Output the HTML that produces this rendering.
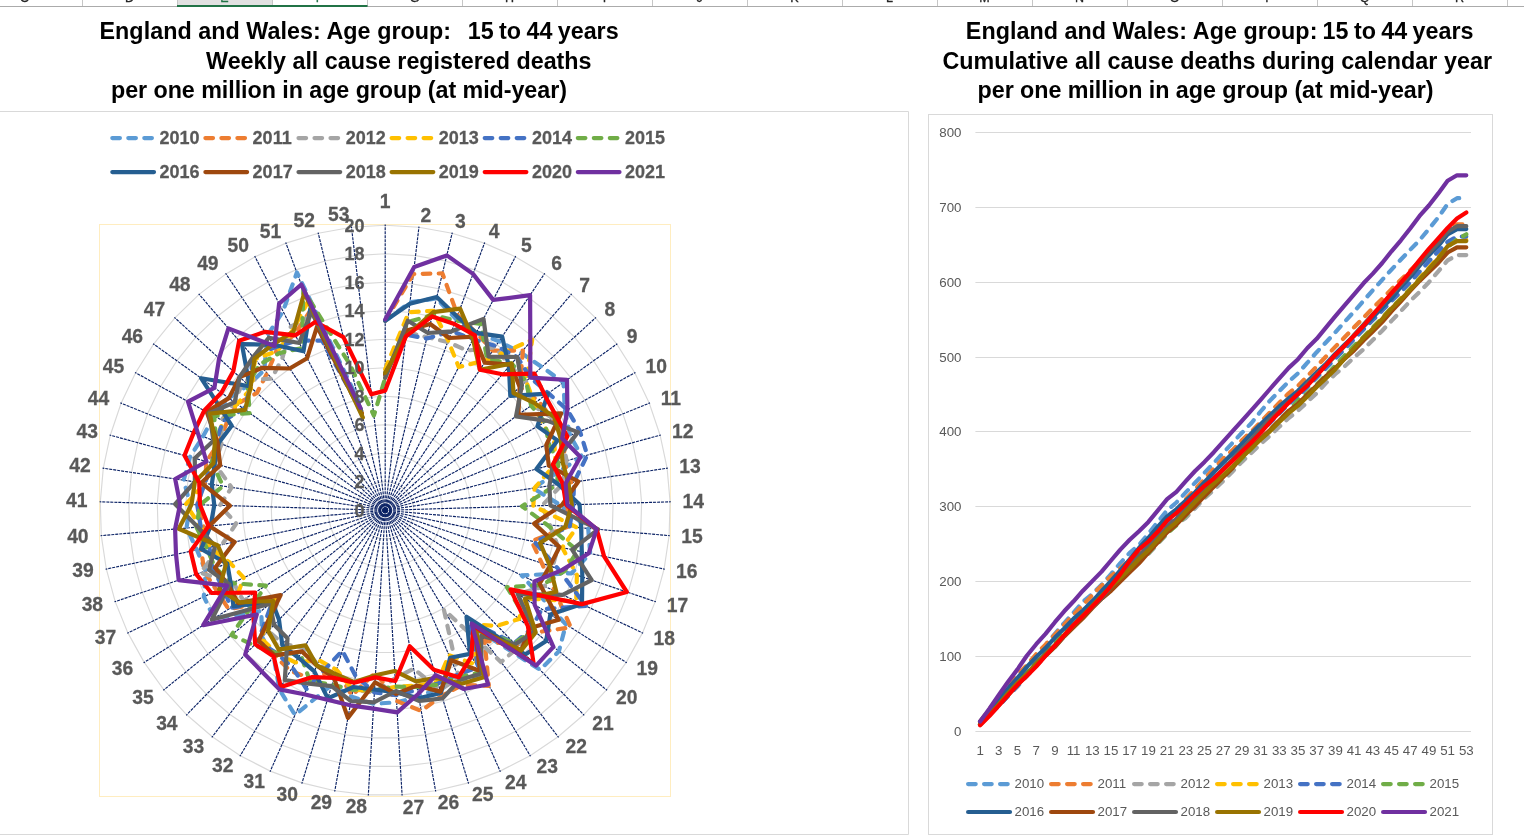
<!DOCTYPE html>
<html lang="en"><head><meta charset="utf-8"><title>England and Wales: Age group 15 to 44 years</title>
<style>
html,body{margin:0;padding:0;background:#fff;}
body{width:1524px;height:836px;overflow:hidden;font-family:"Liberation Sans",sans-serif;}
svg{display:block;}
.t{font-family:"Liberation Sans",sans-serif;font-weight:bold;font-size:23.3px;fill:#000;white-space:pre;}
.cl{font-family:"Liberation Sans",sans-serif;font-weight:bold;font-size:18.3px;fill:#595959;stroke:#595959;stroke-width:0.25px;}
.cat{font-size:19.6px;}
.rl{font-family:"Liberation Sans",sans-serif;font-size:13.3px;fill:#595959;}
.hd{font-family:"Liberation Sans",sans-serif;font-size:12.5px;fill:#222;text-anchor:middle;stroke-width:0.3px;stroke:currentColor;}
.s{fill:none;stroke-width:4.2;stroke-linejoin:round;stroke-linecap:round;}
.d{stroke-dasharray:7.6 8.4;}
.sp{stroke:#0B2265;stroke-width:1.15;stroke-dasharray:3 1;fill:none;}
.g{stroke:#D9D9D9;stroke-width:1.15;fill:none;}
</style></head><body>
<svg width="1524" height="836" viewBox="0 0 1524 836">
<rect x="0" y="0" width="1524" height="836" fill="#fff"/>
<g>
<rect x="177.5" y="0" width="95" height="6" fill="#E1E1E1"/>
<text class="hd" x="24.6" y="2" style="fill:#262626;stroke:#262626">C</text>
<text class="hd" x="129.5" y="2" style="fill:#262626;stroke:#262626">D</text>
<text class="hd" x="224.5" y="2" style="fill:#217346;stroke:#217346">E</text>
<text class="hd" x="319.5" y="2" style="fill:#217346;stroke:#217346">F</text>
<text class="hd" x="414.5" y="2" style="fill:#262626;stroke:#262626">G</text>
<text class="hd" x="509.5" y="2" style="fill:#262626;stroke:#262626">H</text>
<text class="hd" x="604.5" y="2" style="fill:#262626;stroke:#262626">I</text>
<text class="hd" x="699.5" y="2" style="fill:#262626;stroke:#262626">J</text>
<text class="hd" x="794.5" y="2" style="fill:#262626;stroke:#262626">K</text>
<text class="hd" x="889.5" y="2" style="fill:#262626;stroke:#262626">L</text>
<text class="hd" x="984.5" y="2" style="fill:#262626;stroke:#262626">M</text>
<text class="hd" x="1079.5" y="2" style="fill:#262626;stroke:#262626">N</text>
<text class="hd" x="1174.5" y="2" style="fill:#262626;stroke:#262626">O</text>
<text class="hd" x="1269.5" y="2" style="fill:#262626;stroke:#262626">P</text>
<text class="hd" x="1364.5" y="2" style="fill:#262626;stroke:#262626">Q</text>
<text class="hd" x="1459.5" y="2" style="fill:#262626;stroke:#262626">R</text>
<line x1="82.5" y1="0" x2="82.5" y2="6" stroke="#C6C6C6" stroke-width="1"/>
<line x1="177.5" y1="0" x2="177.5" y2="6" stroke="#C6C6C6" stroke-width="1"/>
<line x1="272.5" y1="0" x2="272.5" y2="6" stroke="#C6C6C6" stroke-width="1"/>
<line x1="367.5" y1="0" x2="367.5" y2="6" stroke="#C6C6C6" stroke-width="1"/>
<line x1="462.5" y1="0" x2="462.5" y2="6" stroke="#C6C6C6" stroke-width="1"/>
<line x1="557.5" y1="0" x2="557.5" y2="6" stroke="#C6C6C6" stroke-width="1"/>
<line x1="652.5" y1="0" x2="652.5" y2="6" stroke="#C6C6C6" stroke-width="1"/>
<line x1="747.5" y1="0" x2="747.5" y2="6" stroke="#C6C6C6" stroke-width="1"/>
<line x1="842.5" y1="0" x2="842.5" y2="6" stroke="#C6C6C6" stroke-width="1"/>
<line x1="937.5" y1="0" x2="937.5" y2="6" stroke="#C6C6C6" stroke-width="1"/>
<line x1="1032.5" y1="0" x2="1032.5" y2="6" stroke="#C6C6C6" stroke-width="1"/>
<line x1="1127.5" y1="0" x2="1127.5" y2="6" stroke="#C6C6C6" stroke-width="1"/>
<line x1="1222.5" y1="0" x2="1222.5" y2="6" stroke="#C6C6C6" stroke-width="1"/>
<line x1="1317.5" y1="0" x2="1317.5" y2="6" stroke="#C6C6C6" stroke-width="1"/>
<line x1="1412.5" y1="0" x2="1412.5" y2="6" stroke="#C6C6C6" stroke-width="1"/>
<line x1="1507.5" y1="0" x2="1507.5" y2="6" stroke="#C6C6C6" stroke-width="1"/>
<rect x="0" y="6" width="1524" height="1" fill="#ABABAB"/>
<rect x="177" y="5" width="190.5" height="2" fill="#217346"/>
</g>
<text class="t" x="99.5" y="38.9" style="letter-spacing:0.046px">England and Wales: Age group:</text>
<text class="t" x="467.8" y="38.9" style="word-spacing:-1.1px">15 to 44 years</text>
<text class="t" x="206.1" y="69.3">Weekly all cause registered deaths</text>
<text class="t" x="111.0" y="97.7" style="letter-spacing:-0.056px">per one million in age group (at mid-year)</text>
<text class="t" x="965.8" y="38.9" style="letter-spacing:0.046px">England and Wales: Age group:</text>
<text class="t" x="1322.6" y="38.9" style="word-spacing:-1.1px">15 to 44 years</text>
<text class="t" x="942.4" y="69.3" style="letter-spacing:0.04px">Cumulative all cause deaths during calendar year</text>
<text class="t" x="977.6" y="97.7" style="letter-spacing:-0.056px">per one million in age group (at mid-year)</text>
<path d="M0 111.5H908.5V834.5H0" fill="none" stroke="#D9D9D9" stroke-width="1"/>
<rect x="928.5" y="114.5" width="564" height="720" fill="none" stroke="#D9D9D9" stroke-width="1"/>
<line class="s d" x1="112.3" y1="138.1" x2="152.2" y2="138.1" stroke="#5B9BD5"/>
<text class="cl" transform="translate(159.5 144.4) scale(0.985 1)" text-anchor="start">2010</text>
<line class="s d" x1="205.4" y1="138.1" x2="245.3" y2="138.1" stroke="#ED7D31"/>
<text class="cl" transform="translate(252.6 144.4) scale(0.985 1)" text-anchor="start">2011</text>
<line class="s d" x1="298.5" y1="138.1" x2="338.4" y2="138.1" stroke="#A5A5A5"/>
<text class="cl" transform="translate(345.7 144.4) scale(0.985 1)" text-anchor="start">2012</text>
<line class="s d" x1="391.6" y1="138.1" x2="431.5" y2="138.1" stroke="#FFC000"/>
<text class="cl" transform="translate(438.8 144.4) scale(0.985 1)" text-anchor="start">2013</text>
<line class="s d" x1="484.7" y1="138.1" x2="524.6" y2="138.1" stroke="#4472C4"/>
<text class="cl" transform="translate(531.9 144.4) scale(0.985 1)" text-anchor="start">2014</text>
<line class="s d" x1="577.8" y1="138.1" x2="617.7" y2="138.1" stroke="#70AD47"/>
<text class="cl" transform="translate(625 144.4) scale(0.985 1)" text-anchor="start">2015</text>
<line class="s" x1="112.3" y1="172.1" x2="154" y2="172.1" stroke="#255E91"/>
<text class="cl" transform="translate(159.5 177.9) scale(0.985 1)" text-anchor="start">2016</text>
<line class="s" x1="205.4" y1="172.1" x2="247.1" y2="172.1" stroke="#9E480E"/>
<text class="cl" transform="translate(252.6 177.9) scale(0.985 1)" text-anchor="start">2017</text>
<line class="s" x1="298.5" y1="172.1" x2="340.2" y2="172.1" stroke="#636363"/>
<text class="cl" transform="translate(345.7 177.9) scale(0.985 1)" text-anchor="start">2018</text>
<line class="s" x1="391.6" y1="172.1" x2="433.3" y2="172.1" stroke="#997300"/>
<text class="cl" transform="translate(438.8 177.9) scale(0.985 1)" text-anchor="start">2019</text>
<line class="s" x1="484.7" y1="172.1" x2="526.4" y2="172.1" stroke="#FF0000"/>
<text class="cl" transform="translate(531.9 177.9) scale(0.985 1)" text-anchor="start">2020</text>
<line class="s" x1="577.8" y1="172.1" x2="619.5" y2="172.1" stroke="#7030A0"/>
<text class="cl" transform="translate(625 177.9) scale(0.985 1)" text-anchor="start">2021</text>
<rect x="99.5" y="224.5" width="571" height="572" fill="none" stroke="#FFEDC0" stroke-width="1"/>
<polygon class="g" points="385.2,481.8 388.6,482.0 391.9,482.6 395.1,483.6 398.2,484.9 401.1,486.7 403.8,488.7 406.2,491.1 408.4,493.7 410.2,496.5 411.6,499.6 412.7,502.8 413.4,506.1 413.7,509.5 413.6,512.8 413.1,516.2 412.2,519.4 410.9,522.6 409.3,525.5 407.3,528.3 405.1,530.7 402.5,533.0 399.7,534.8 396.7,536.4 393.5,537.6 390.2,538.4 386.9,538.7 383.5,538.7 380.2,538.4 376.9,537.6 373.7,536.4 370.7,534.8 367.9,533.0 365.3,530.7 363.1,528.3 361.1,525.5 359.5,522.6 358.2,519.4 357.3,516.2 356.8,512.8 356.7,509.5 357.0,506.1 357.7,502.8 358.8,499.6 360.2,496.5 362.0,493.7 364.2,491.1 366.6,488.7 369.3,486.7 372.2,484.9 375.3,483.6 378.5,482.6 381.8,482.0"/>
<polygon class="g" points="385.2,453.3 391.9,453.7 398.6,454.9 405.0,456.9 411.2,459.6 417.0,463.0 422.4,467.1 427.3,471.8 431.5,477.1 435.1,482.8 438.0,488.9 440.2,495.3 441.6,501.9 442.2,508.6 442.0,515.4 441.0,522.0 439.2,528.6 436.7,534.8 433.4,540.7 429.5,546.2 424.9,551.2 419.8,555.6 414.2,559.4 408.2,562.5 401.8,564.8 395.3,566.4 388.6,567.2 381.8,567.2 375.1,566.4 368.6,564.8 362.2,562.5 356.2,559.4 350.6,555.6 345.5,551.2 340.9,546.2 337.0,540.7 333.7,534.8 331.2,528.6 329.4,522.0 328.4,515.4 328.2,508.6 328.8,501.9 330.2,495.3 332.4,488.9 335.3,482.8 338.9,477.1 343.1,471.8 348.0,467.1 353.4,463.0 359.2,459.6 365.4,456.9 371.8,454.9 378.5,453.7"/>
<polygon class="g" points="385.2,424.8 395.3,425.4 405.3,427.2 415.0,430.2 424.2,434.2 433.0,439.4 441.0,445.5 448.3,452.6 454.7,460.5 460.1,469.0 464.4,478.2 467.7,487.8 469.8,497.7 470.7,507.8 470.4,517.9 468.9,527.9 466.2,537.7 462.4,547.1 457.5,555.9 451.6,564.2 444.8,571.6 437.1,578.3 428.7,583.9 419.7,588.5 410.2,592.1 400.3,594.5 390.3,595.6 380.1,595.6 370.1,594.5 360.2,592.1 350.7,588.5 341.7,583.9 333.3,578.3 325.6,571.6 318.8,564.2 312.9,555.9 308.0,547.1 304.2,537.7 301.5,527.9 300.0,517.9 299.7,507.8 300.6,497.7 302.7,487.8 306.0,478.2 310.3,469.0 315.7,460.5 322.1,452.6 329.4,445.5 337.4,439.4 346.2,434.2 355.4,430.2 365.1,427.2 375.1,425.4"/>
<polygon class="g" points="385.2,396.3 398.7,397.1 412.0,399.5 424.9,403.4 437.3,408.9 448.9,415.7 459.6,423.9 469.3,433.4 477.8,443.8 485.0,455.3 490.8,467.5 495.2,480.3 498.0,493.5 499.1,506.9 498.7,520.4 496.8,533.8 493.2,546.8 488.1,559.3 481.6,571.2 473.7,582.1 464.6,592.1 454.4,600.9 443.2,608.5 431.2,614.6 418.5,619.3 405.4,622.5 392.0,624.1 378.4,624.1 365.0,622.5 351.9,619.3 339.2,614.6 327.2,608.5 316.0,600.9 305.8,592.1 296.7,582.1 288.8,571.2 282.3,559.3 277.2,546.8 273.6,533.8 271.7,520.4 271.3,506.9 272.4,493.5 275.2,480.3 279.6,467.5 285.4,455.3 292.6,443.8 301.1,433.4 310.8,423.9 321.5,415.7 333.1,408.9 345.5,403.4 358.4,399.5 371.7,397.1"/>
<polygon class="g" points="385.2,367.8 402.1,368.8 418.7,371.8 434.8,376.7 450.3,383.5 464.8,392.1 478.2,402.4 490.3,414.1 501.0,427.2 510.0,441.5 517.3,456.7 522.7,472.7 526.1,489.3 527.6,506.1 527.1,523.0 524.6,539.7 520.2,555.9 513.8,571.6 505.7,586.4 495.9,600.1 484.5,612.5 471.7,623.6 457.7,633.0 442.6,640.7 426.8,646.6 410.4,650.6 393.6,652.5 376.8,652.5 360.0,650.6 343.6,646.6 327.8,640.7 312.7,633.0 298.7,623.6 285.9,612.5 274.5,600.1 264.7,586.4 256.6,571.6 250.2,555.9 245.8,539.7 243.3,523.0 242.8,506.1 244.3,489.3 247.7,472.7 253.1,456.7 260.4,441.5 269.4,427.2 280.1,414.1 292.2,402.4 305.6,392.1 320.1,383.5 335.6,376.7 351.7,371.8 368.3,368.8"/>
<polygon class="g" points="385.2,339.3 405.4,340.5 425.4,344.1 444.7,350.0 463.3,358.2 480.7,368.5 496.8,380.8 511.4,394.9 524.1,410.6 535.0,427.7 543.7,446.0 550.2,465.2 554.3,485.1 556.1,505.2 555.5,525.5 552.5,545.5 547.2,565.1 539.6,583.8 529.8,601.6 518.0,618.0 504.3,633.0 489.0,646.2 472.2,657.5 454.1,666.8 435.1,673.8 415.4,678.6 395.3,681.0 375.1,681.0 355.0,678.6 335.3,673.8 316.3,666.8 298.2,657.5 281.4,646.2 266.1,633.0 252.4,618.0 240.6,601.6 230.8,583.8 223.2,565.1 217.9,545.5 214.9,525.5 214.3,505.2 216.1,485.1 220.2,465.2 226.7,446.0 235.4,427.7 246.3,410.6 259.0,394.9 273.6,380.8 289.7,368.5 307.1,358.2 325.7,350.0 345.0,344.1 365.0,340.5"/>
<polygon class="g" points="385.2,310.8 408.8,312.2 432.1,316.4 454.7,323.3 476.3,332.8 496.7,344.8 515.4,359.2 532.4,375.6 547.3,394.0 559.9,414.0 570.1,435.3 577.6,457.7 582.5,480.8 584.6,504.4 583.9,528.0 580.4,551.4 574.2,574.2 565.3,596.1 553.9,616.8 540.1,636.0 524.2,653.4 506.3,668.9 486.7,682.1 465.6,692.9 443.5,701.1 420.5,706.7 397.0,709.4 373.4,709.4 349.9,706.7 326.9,701.1 304.8,692.9 283.7,682.1 264.1,668.9 246.2,653.4 230.3,636.0 216.5,616.8 205.1,596.1 196.2,574.2 190.0,551.4 186.5,528.0 185.8,504.4 187.9,480.8 192.8,457.7 200.3,435.3 210.5,414.0 223.1,394.0 238.0,375.6 255.0,359.2 273.7,344.8 294.1,332.8 315.7,323.3 338.3,316.4 361.6,312.2"/>
<polygon class="g" points="385.2,282.3 412.2,283.9 438.8,288.7 464.6,296.6 489.3,307.5 512.6,321.2 534.0,337.6 553.4,356.4 570.4,377.4 584.9,400.2 596.5,424.6 605.1,450.2 610.7,476.6 613.1,503.5 612.3,530.5 608.3,557.3 601.2,583.3 591.0,608.4 578.0,632.0 562.2,654.0 544.0,673.9 523.6,691.5 501.1,706.6 477.1,719.0 451.8,728.4 425.5,734.7 398.7,737.9 371.7,737.9 344.9,734.7 318.6,728.4 293.3,719.0 269.3,706.6 246.8,691.5 226.4,673.9 208.2,654.0 192.4,632.0 179.4,608.4 169.2,583.3 162.1,557.3 158.1,530.5 157.3,503.5 159.7,476.6 165.3,450.2 173.9,424.6 185.5,400.2 200.0,377.4 217.0,356.4 236.4,337.6 257.8,321.2 281.1,307.5 305.8,296.6 331.6,288.7 358.2,283.9"/>
<polygon class="g" points="385.2,253.8 415.5,255.6 445.4,261.0 474.5,269.9 502.3,282.1 528.5,297.6 552.6,316.0 574.5,337.2 593.6,360.8 609.8,386.5 622.9,413.9 632.6,442.7 638.9,472.4 641.6,502.7 640.7,533.1 636.2,563.1 628.2,592.4 616.8,620.6 602.1,647.2 584.4,671.9 563.9,694.3 540.8,714.2 515.6,731.2 488.6,745.0 460.1,755.6 430.6,762.8 400.4,766.3 370.0,766.3 339.8,762.8 310.3,755.6 281.8,745.0 254.8,731.2 229.6,714.2 206.5,694.3 186.0,671.9 168.3,647.2 153.6,620.6 142.2,592.4 134.2,563.1 129.7,533.1 128.8,502.7 131.5,472.4 137.8,442.7 147.5,413.9 160.6,386.5 176.8,360.8 195.9,337.2 217.8,316.0 241.9,297.6 268.1,282.1 295.9,269.9 325.0,261.0 354.9,255.6"/>
<polygon class="g" points="385.2,225.3 418.9,227.3 452.1,233.3 484.4,243.1 515.3,256.7 544.4,273.9 571.3,294.4 595.5,317.9 616.8,344.2 634.8,372.7 649.3,403.2 660.1,435.2 667.1,468.2 670.1,501.9 669.1,535.6 664.1,569.0 655.2,601.6 642.5,632.9 626.2,662.4 606.5,689.9 583.7,714.8 558.1,736.8 530.1,755.7 500.1,771.1 468.4,782.9 435.6,790.8 402.1,794.8 368.3,794.8 334.8,790.8 302.0,782.9 270.3,771.1 240.3,755.7 212.3,736.8 186.7,714.8 163.9,689.9 144.2,662.4 127.9,632.9 115.2,601.6 106.3,569.0 101.3,535.6 100.3,501.9 103.3,468.2 110.3,435.2 121.1,403.2 135.6,372.7 153.6,344.2 174.9,317.9 199.1,294.4 226.0,273.9 255.1,256.7 286.0,243.1 318.3,233.3 351.5,227.3"/>
<line class="sp" x1="385.2" y1="510.3" x2="385.2" y2="224.6"/>
<line class="sp" x1="385.2" y1="510.3" x2="419.0" y2="226.6"/>
<line class="sp" x1="385.2" y1="510.3" x2="452.3" y2="232.6"/>
<line class="sp" x1="385.2" y1="510.3" x2="484.7" y2="242.5"/>
<line class="sp" x1="385.2" y1="510.3" x2="515.7" y2="256.1"/>
<line class="sp" x1="385.2" y1="510.3" x2="544.8" y2="273.3"/>
<line class="sp" x1="385.2" y1="510.3" x2="571.7" y2="293.9"/>
<line class="sp" x1="385.2" y1="510.3" x2="596.0" y2="317.4"/>
<line class="sp" x1="385.2" y1="510.3" x2="617.3" y2="343.7"/>
<line class="sp" x1="385.2" y1="510.3" x2="635.4" y2="372.4"/>
<line class="sp" x1="385.2" y1="510.3" x2="650.0" y2="402.9"/>
<line class="sp" x1="385.2" y1="510.3" x2="660.8" y2="435.0"/>
<line class="sp" x1="385.2" y1="510.3" x2="667.8" y2="468.1"/>
<line class="sp" x1="385.2" y1="510.3" x2="670.8" y2="501.8"/>
<line class="sp" x1="385.2" y1="510.3" x2="669.8" y2="535.7"/>
<line class="sp" x1="385.2" y1="510.3" x2="664.8" y2="569.2"/>
<line class="sp" x1="385.2" y1="510.3" x2="655.9" y2="601.8"/>
<line class="sp" x1="385.2" y1="510.3" x2="643.1" y2="633.2"/>
<line class="sp" x1="385.2" y1="510.3" x2="626.8" y2="662.8"/>
<line class="sp" x1="385.2" y1="510.3" x2="607.1" y2="690.3"/>
<line class="sp" x1="385.2" y1="510.3" x2="584.2" y2="715.3"/>
<line class="sp" x1="385.2" y1="510.3" x2="558.6" y2="737.4"/>
<line class="sp" x1="385.2" y1="510.3" x2="530.5" y2="756.3"/>
<line class="sp" x1="385.2" y1="510.3" x2="500.4" y2="771.8"/>
<line class="sp" x1="385.2" y1="510.3" x2="468.6" y2="783.6"/>
<line class="sp" x1="385.2" y1="510.3" x2="435.7" y2="791.5"/>
<line class="sp" x1="385.2" y1="510.3" x2="402.1" y2="795.5"/>
<line class="sp" x1="385.2" y1="510.3" x2="368.3" y2="795.5"/>
<line class="sp" x1="385.2" y1="510.3" x2="334.7" y2="791.5"/>
<line class="sp" x1="385.2" y1="510.3" x2="301.8" y2="783.6"/>
<line class="sp" x1="385.2" y1="510.3" x2="270.0" y2="771.8"/>
<line class="sp" x1="385.2" y1="510.3" x2="239.9" y2="756.3"/>
<line class="sp" x1="385.2" y1="510.3" x2="211.8" y2="737.4"/>
<line class="sp" x1="385.2" y1="510.3" x2="186.2" y2="715.3"/>
<line class="sp" x1="385.2" y1="510.3" x2="163.3" y2="690.3"/>
<line class="sp" x1="385.2" y1="510.3" x2="143.6" y2="662.8"/>
<line class="sp" x1="385.2" y1="510.3" x2="127.3" y2="633.2"/>
<line class="sp" x1="385.2" y1="510.3" x2="114.5" y2="601.8"/>
<line class="sp" x1="385.2" y1="510.3" x2="105.6" y2="569.2"/>
<line class="sp" x1="385.2" y1="510.3" x2="100.6" y2="535.7"/>
<line class="sp" x1="385.2" y1="510.3" x2="99.6" y2="501.8"/>
<line class="sp" x1="385.2" y1="510.3" x2="102.6" y2="468.1"/>
<line class="sp" x1="385.2" y1="510.3" x2="109.6" y2="435.0"/>
<line class="sp" x1="385.2" y1="510.3" x2="120.4" y2="402.9"/>
<line class="sp" x1="385.2" y1="510.3" x2="135.0" y2="372.4"/>
<line class="sp" x1="385.2" y1="510.3" x2="153.1" y2="343.7"/>
<line class="sp" x1="385.2" y1="510.3" x2="174.4" y2="317.4"/>
<line class="sp" x1="385.2" y1="510.3" x2="198.7" y2="293.9"/>
<line class="sp" x1="385.2" y1="510.3" x2="225.6" y2="273.3"/>
<line class="sp" x1="385.2" y1="510.3" x2="254.7" y2="256.1"/>
<line class="sp" x1="385.2" y1="510.3" x2="285.7" y2="242.5"/>
<line class="sp" x1="385.2" y1="510.3" x2="318.1" y2="232.6"/>
<line class="sp" x1="385.2" y1="510.3" x2="351.4" y2="226.6"/>
<text class="cl cat" transform="translate(385.2 208.2) scale(0.985 1)" text-anchor="middle">1</text>
<text class="cl cat" transform="translate(420.4 221.5) scale(0.985 1)" text-anchor="start">2</text>
<text class="cl cat" transform="translate(455 227.7) scale(0.985 1)" text-anchor="start">3</text>
<text class="cl cat" transform="translate(488.7 238) scale(0.985 1)" text-anchor="start">4</text>
<text class="cl cat" transform="translate(521 252.2) scale(0.985 1)" text-anchor="start">5</text>
<text class="cl cat" transform="translate(551.3 270.1) scale(0.985 1)" text-anchor="start">6</text>
<text class="cl cat" transform="translate(579.3 291.5) scale(0.985 1)" text-anchor="start">7</text>
<text class="cl cat" transform="translate(604.6 316) scale(0.985 1)" text-anchor="start">8</text>
<text class="cl cat" transform="translate(626.8 343.4) scale(0.985 1)" text-anchor="start">9</text>
<text class="cl cat" transform="translate(645.6 373.2) scale(0.985 1)" text-anchor="start">10</text>
<text class="cl cat" transform="translate(660.7 405) scale(0.985 1)" text-anchor="start">11</text>
<text class="cl cat" transform="translate(672 438.3) scale(0.985 1)" text-anchor="start">12</text>
<text class="cl cat" transform="translate(679.2 472.8) scale(0.985 1)" text-anchor="start">13</text>
<text class="cl cat" transform="translate(682.4 507.9) scale(0.985 1)" text-anchor="start">14</text>
<text class="cl cat" transform="translate(681.3 543.1) scale(0.985 1)" text-anchor="start">15</text>
<text class="cl cat" transform="translate(676.1 577.9) scale(0.985 1)" text-anchor="start">16</text>
<text class="cl cat" transform="translate(666.8 611.9) scale(0.985 1)" text-anchor="start">17</text>
<text class="cl cat" transform="translate(653.6 644.6) scale(0.985 1)" text-anchor="start">18</text>
<text class="cl cat" transform="translate(636.6 675.4) scale(0.985 1)" text-anchor="start">19</text>
<text class="cl cat" transform="translate(616.1 704) scale(0.985 1)" text-anchor="start">20</text>
<text class="cl cat" transform="translate(592.3 730) scale(0.985 1)" text-anchor="start">21</text>
<text class="cl cat" transform="translate(565.6 753) scale(0.985 1)" text-anchor="start">22</text>
<text class="cl cat" transform="translate(536.4 772.7) scale(0.985 1)" text-anchor="start">23</text>
<text class="cl cat" transform="translate(505 788.8) scale(0.985 1)" text-anchor="start">24</text>
<text class="cl cat" transform="translate(472 801) scale(0.985 1)" text-anchor="start">25</text>
<text class="cl cat" transform="translate(437.8 809.3) scale(0.985 1)" text-anchor="start">26</text>
<text class="cl cat" transform="translate(402.8 813.5) scale(0.985 1)" text-anchor="start">27</text>
<text class="cl cat" transform="translate(367.1 813) scale(0.985 1)" text-anchor="end">28</text>
<text class="cl cat" transform="translate(332.1 808.8) scale(0.985 1)" text-anchor="end">29</text>
<text class="cl cat" transform="translate(297.9 800.5) scale(0.985 1)" text-anchor="end">30</text>
<text class="cl cat" transform="translate(264.9 788.3) scale(0.985 1)" text-anchor="end">31</text>
<text class="cl cat" transform="translate(233.5 772.2) scale(0.985 1)" text-anchor="end">32</text>
<text class="cl cat" transform="translate(204.3 752.5) scale(0.985 1)" text-anchor="end">33</text>
<text class="cl cat" transform="translate(177.6 729.5) scale(0.985 1)" text-anchor="end">34</text>
<text class="cl cat" transform="translate(153.8 703.5) scale(0.985 1)" text-anchor="end">35</text>
<text class="cl cat" transform="translate(133.3 674.9) scale(0.985 1)" text-anchor="end">36</text>
<text class="cl cat" transform="translate(116.3 644.1) scale(0.985 1)" text-anchor="end">37</text>
<text class="cl cat" transform="translate(103.1 611.4) scale(0.985 1)" text-anchor="end">38</text>
<text class="cl cat" transform="translate(93.8 577.4) scale(0.985 1)" text-anchor="end">39</text>
<text class="cl cat" transform="translate(88.6 542.6) scale(0.985 1)" text-anchor="end">40</text>
<text class="cl cat" transform="translate(87.5 507.4) scale(0.985 1)" text-anchor="end">41</text>
<text class="cl cat" transform="translate(90.7 472.3) scale(0.985 1)" text-anchor="end">42</text>
<text class="cl cat" transform="translate(97.9 437.8) scale(0.985 1)" text-anchor="end">43</text>
<text class="cl cat" transform="translate(109.2 404.5) scale(0.985 1)" text-anchor="end">44</text>
<text class="cl cat" transform="translate(124.3 372.7) scale(0.985 1)" text-anchor="end">45</text>
<text class="cl cat" transform="translate(143.1 342.9) scale(0.985 1)" text-anchor="end">46</text>
<text class="cl cat" transform="translate(165.3 315.5) scale(0.985 1)" text-anchor="end">47</text>
<text class="cl cat" transform="translate(190.6 291) scale(0.985 1)" text-anchor="end">48</text>
<text class="cl cat" transform="translate(218.6 269.6) scale(0.985 1)" text-anchor="end">49</text>
<text class="cl cat" transform="translate(248.9 251.7) scale(0.985 1)" text-anchor="end">50</text>
<text class="cl cat" transform="translate(281.2 237.5) scale(0.985 1)" text-anchor="end">51</text>
<text class="cl cat" transform="translate(314.9 227.2) scale(0.985 1)" text-anchor="end">52</text>
<text class="cl cat" transform="translate(349.5 221) scale(0.985 1)" text-anchor="end">53</text>
<polyline class="s d" stroke="#5B9BD5" points="385.2,320.8 410.0,302.3 436.4,298.4 456.2,319.3 476.3,332.8 499.0,341.3 521.0,352.7 541.9,367.0 563.5,382.4 564.9,411.2 570.1,435.3 581.8,456.6 533.2,488.2 560.4,505.1 588.2,528.4 590.2,553.4 571.5,573.3 521.6,575.3 565.9,624.4 558.9,651.3 540.0,669.8 475.1,628.1 483.8,677.2 459.9,679.8 439.3,687.5 418.7,696.8 396.6,702.3 373.7,703.8 351.7,696.8 331.9,684.7 295.0,715.0 279.4,689.4 273.7,656.4 262.1,637.1 261.3,610.9 214.1,618.3 203.8,596.7 205.7,571.0 197.0,549.9 186.5,528.0 190.1,504.5 183.7,480.2 190.0,457.0 203.0,436.4 214.2,416.0 228.9,398.1 248.5,385.3 264.3,370.0 267.4,335.4 283.0,311.3 296.9,272.5 359.1,402.3"/>
<polyline class="s d" stroke="#ED7D31" points="385.2,320.8 413.3,274.0 442.4,273.4 457.6,315.3 476.3,332.8 492.7,350.7 522.9,350.5 519.8,387.2 538.0,400.6 552.4,418.1 564.8,437.5 563.9,461.5 571.2,482.5 567.5,504.9 568.3,526.6 531.6,541.1 541.8,563.2 555.0,591.2 570.8,627.4 535.7,632.4 516.2,645.3 484.6,640.6 488.8,685.8 462.2,685.0 441.8,695.7 421.2,710.9 396.5,700.9 375.6,672.5 351.9,695.4 336.5,669.8 311.1,678.5 290.3,671.0 274.5,655.3 260.1,639.1 273.4,601.0 228.6,609.2 216.7,590.6 204.3,571.5 201.1,549.0 203.5,526.5 197.2,504.7 204.8,483.4 206.5,461.5 218.8,442.8 226.7,422.9 237.0,404.0 256.9,393.0 267.1,373.2 276.9,349.6 294.8,334.1 310.8,309.9 361.8,413.3"/>
<polyline class="s d" stroke="#A5A5A5" points="385.2,372.1 406.4,332.0 427.0,337.2 447.7,342.0 467.2,350.6 495.1,347.2 509.9,365.7 526.1,381.4 532.2,404.8 552.4,418.1 562.2,438.5 566.6,460.7 562.8,483.8 541.9,505.7 549.8,525.0 558.1,546.7 552.6,566.9 544.7,586.3 517.7,594.0 533.5,630.6 518.2,647.3 501.1,662.1 443.9,609.7 458.7,677.2 440.1,690.2 413.7,668.8 395.2,678.2 374.4,692.4 352.9,689.8 335.3,673.8 317.4,664.2 304.0,647.7 283.2,644.0 268.1,630.9 279.0,596.5 243.0,600.1 233.4,582.6 200.3,572.8 222.1,544.6 236.2,523.6 220.0,505.4 231.6,487.4 214.7,463.7 221.5,443.9 221.7,420.2 234.7,402.3 243.3,380.5 271.7,378.6 282.5,357.8 290.8,326.5 312.8,315.3 361.8,413.3"/>
<polyline class="s d" stroke="#FFC000" points="385.2,369.2 408.8,312.2 433.4,310.8 448.2,340.7 458.7,367.0 486.3,360.2 532.2,339.7 526.1,381.4 534.6,403.1 542.4,423.6 554.2,441.7 555.7,463.7 534.6,488.0 533.3,505.9 576.8,527.4 562.3,547.6 576.9,575.1 576.2,601.3 525.0,598.5 519.1,618.9 497.4,625.8 472.5,624.7 476.5,664.9 449.0,655.1 437.6,682.0 416.7,685.6 395.7,686.7 374.5,691.0 352.9,689.8 336.5,669.8 319.1,660.3 295.3,662.4 276.2,653.0 261.1,638.1 276.8,598.3 233.4,606.1 243.7,577.7 230.0,562.8 209.5,547.3 200.7,526.7 185.8,504.4 204.8,483.4 212.0,463.0 216.2,441.7 223.0,420.9 237.0,404.0 251.7,388.1 255.0,359.2 277.7,350.7 292.8,330.3 307.8,301.9 361.8,413.3"/>
<polyline class="s d" stroke="#4472C4" points="385.2,373.5 406.1,334.8 426.7,338.5 451.7,331.3 473.0,339.2 495.9,346.0 517.3,357.0 530.3,377.6 548.4,393.2 567.4,409.9 580.0,431.3 587.3,455.1 574.1,482.1 573.2,504.7 569.7,526.7 534.4,541.7 558.0,568.7 585.9,605.9 541.8,609.2 531.3,628.8 514.2,643.2 469.9,621.3 478.0,667.4 457.6,674.6 438.1,683.4 417.5,689.8 396.2,695.2 374.4,692.4 355.5,675.8 342.3,650.7 306.5,689.0 292.4,667.4 276.2,653.0 258.1,641.2 272.3,601.9 231.0,607.7 223.1,587.5 212.4,568.7 209.5,547.3 200.7,526.7 197.2,504.7 204.8,483.4 212.0,463.0 216.2,441.7 223.0,420.9 243.9,408.9 250.6,387.2 252.2,355.9 275.3,347.2 298.0,340.4 322.2,340.7 361.1,410.6"/>
<polygon class="s d" stroke="#70AD47" points="385.2,377.8 407.6,322.1 432.4,315.0 455.7,320.6 480.9,323.9 487.1,359.0 511.7,363.5 526.1,381.4 531.1,405.6 544.9,422.2 548.9,443.9 558.4,463.0 557.1,484.6 521.9,506.2 547.0,524.7 577.6,550.8 564.7,571.0 542.2,585.1 506.9,587.1 533.5,630.6 514.2,643.2 475.1,628.1 480.9,672.3 458.7,677.2 438.5,684.7 417.0,687.0 395.7,686.7 374.6,689.5 352.9,689.8 331.9,684.7 309.9,681.1 300.4,653.9 276.2,653.0 254.2,645.3 231.4,635.1 265.9,585.6 232.1,583.2 215.1,567.8 206.7,547.9 196.4,527.1 200.0,504.8 223.1,486.1 212.0,463.0 216.2,441.7 214.2,416.0 249.7,413.1 247.5,384.3 259.6,364.6 279.3,353.1 301.9,348.0 303.3,289.9 350.1,364.9 373.9,415.5"/>
<polyline class="s" stroke="#255E91" points="385.2,320.8 409.8,303.7 436.7,297.0 457.1,316.6 476.3,332.8 502.2,336.6 508.9,366.7 510.3,395.8 547.9,393.6 537.4,426.4 557.5,440.4 536.4,469.0 558.6,484.4 579.6,504.5 581.1,527.8 581.8,551.7 582.3,576.9 582.0,604.1 550.3,614.5 546.2,640.9 525.2,654.5 466.5,616.8 470.0,653.9 450.1,657.7 441.0,692.9 419.0,698.2 396.0,692.4 374.6,689.5 353.4,687.0 327.8,698.4 314.3,671.4 298.2,657.5 282.3,645.1 279.0,619.7 272.3,601.9 233.4,606.1 230.8,583.8 227.3,563.7 201.1,549.0 210.6,525.9 214.3,505.2 211.8,484.4 214.7,463.7 218.8,442.8 231.7,425.7 201.1,378.2 249.6,386.2 241.9,344.1 273.7,344.8 303.5,351.2 310.3,308.6 360.8,409.2"/>
<polyline class="s" stroke="#9E480E" points="385.2,374.9 406.6,330.6 430.2,324.0 449.2,338.0 474.3,336.6 484.7,362.6 510.8,364.6 519.8,387.2 518.3,414.8 561.2,413.3 546.3,445.0 548.8,465.6 578.3,481.5 561.8,505.1 534.2,523.6 559.5,547.0 549.9,566.0 539.6,583.8 558.7,619.8 530.2,627.9 521.2,650.4 474.3,627.0 480.1,671.0 451.3,660.3 440.6,691.6 416.7,685.6 396.1,693.8 375.0,682.4 347.9,717.9 334.0,677.9 316.8,665.5 301.9,651.4 274.5,655.3 258.6,640.7 280.6,595.1 238.2,603.1 228.2,585.1 215.1,567.8 234.6,542.0 209.2,526.0 229.9,505.7 201.3,482.8 220.2,465.2 217.5,442.3 206.7,411.9 228.9,398.1 239.6,377.1 262.4,367.8 289.7,368.5 307.1,358.2 317.0,326.6 361.8,413.3"/>
<polyline class="s" stroke="#636363" points="385.2,377.8 407.8,320.7 428.0,333.0 451.7,331.3 483.5,318.9 488.7,356.7 517.3,357.0 521.9,385.3 516.0,416.4 547.4,420.9 578.0,432.1 552.9,464.5 549.4,485.8 550.4,505.4 598.1,529.3 572.1,549.6 591.7,580.1 562.7,594.9 517.7,594.0 534.6,631.5 515.2,644.2 481.2,636.0 481.6,673.5 459.9,679.8 442.6,698.4 419.5,701.0 395.9,691.0 373.8,702.3 350.9,701.0 331.5,686.1 308.8,683.7 284.8,680.2 287.5,638.3 274.0,624.8 270.1,603.7 211.7,619.8 229.5,584.5 209.0,569.9 215.1,546.1 197.8,527.0 175.1,504.1 194.9,481.9 194.8,458.3 213.5,440.7 209.2,413.3 234.7,402.3 239.6,377.1 253.1,357.0 269.0,337.7 299.3,343.0 311.3,311.3 361.1,410.6"/>
<polyline class="s" stroke="#997300" points="385.2,372.8 405.9,336.3 433.1,312.2 460.1,308.6 473.0,339.2 479.9,369.7 511.7,363.5 513.5,393.0 534.6,403.1 554.3,417.1 560.8,439.1 562.5,461.8 568.4,482.9 571.8,504.8 565.5,526.4 540.0,542.9 549.9,566.0 556.3,591.8 525.0,598.5 535.7,632.4 521.2,650.4 476.0,629.2 483.8,677.2 461.6,683.7 436.4,677.9 416.0,681.4 394.7,671.0 375.4,675.3 354.3,682.1 335.3,673.8 316.8,665.5 305.5,645.3 278.8,649.6 268.1,630.9 273.4,601.0 239.4,602.3 219.2,589.4 225.9,564.2 217.9,545.5 178.7,528.7 191.5,504.6 194.9,481.9 213.4,463.3 214.9,441.2 209.9,413.6 245.1,409.8 250.6,387.2 254.5,358.6 273.4,344.2 293.5,331.5 304.3,292.6 362.8,417.5"/>
<polygon class="s" stroke="#FF0000" points="385.2,390.6 405.9,336.3 432.1,316.4 454.4,324.0 475.0,335.3 479.9,369.7 502.4,374.3 534.5,373.7 545.0,395.7 556.2,416.0 567.4,436.4 552.9,464.5 562.8,483.8 566.1,504.9 596.7,529.2 604.1,556.4 626.8,592.0 582.0,604.1 510.5,589.4 527.9,626.1 533.6,663.2 473.4,625.8 471.4,656.3 458.7,677.2 433.9,669.8 409.7,646.3 395.3,681.0 375.3,677.4 354.2,682.8 334.0,677.9 311.7,677.2 280.8,687.0 273.7,656.4 255.2,644.2 253.5,617.1 255.1,592.5 211.5,593.0 196.2,574.2 190.7,551.2 208.5,526.1 200.0,504.8 199.2,482.5 184.5,455.5 193.7,432.6 204.3,410.5 221.4,392.7 233.3,371.3 239.1,340.8 265.0,331.8 295.4,335.3 315.2,321.9 343.4,337.2 371.4,394.3"/>
<polyline class="s" stroke="#7030A0" points="385.2,319.4 414.2,266.9 446.8,255.4 473.0,273.9 493.2,299.9 530.1,295.2 530.3,341.9 530.3,377.6 567.0,379.9 567.4,409.9 562.2,438.5 580.4,457.0 565.6,483.4 567.5,504.9 596.7,529.2 588.8,553.2 562.0,570.1 534.4,581.4 534.6,604.6 553.4,646.8 536.1,665.7 471.7,623.6 488.1,684.5 463.9,689.0 435.6,675.2 418.2,694.0 397.2,712.3 373.4,708.7 350.2,705.3 327.4,699.7 304.2,694.2 279.4,689.4 262.0,671.7 245.2,654.5 256.8,614.5 203.2,625.2 227.0,585.7 178.7,580.1 176.0,554.3 175.1,529.0 180.1,504.2 175.2,479.0 206.5,461.5 198.3,434.5 188.0,401.6 214.4,387.8 219.1,358.3 228.4,328.4 274.5,346.0 279.1,303.7 301.3,284.5 360.4,407.8"/>
<text class="cl" transform="translate(364.5 516.8) scale(0.985 1)" text-anchor="end">0</text>
<text class="cl" transform="translate(364.5 488.3) scale(0.985 1)" text-anchor="end">2</text>
<text class="cl" transform="translate(364.5 459.8) scale(0.985 1)" text-anchor="end">4</text>
<text class="cl" transform="translate(364.5 431.3) scale(0.985 1)" text-anchor="end">6</text>
<text class="cl" transform="translate(364.5 402.8) scale(0.985 1)" text-anchor="end">8</text>
<text class="cl" transform="translate(364.5 374.3) scale(0.985 1)" text-anchor="end">10</text>
<text class="cl" transform="translate(364.5 345.8) scale(0.985 1)" text-anchor="end">12</text>
<text class="cl" transform="translate(364.5 317.3) scale(0.985 1)" text-anchor="end">14</text>
<text class="cl" transform="translate(364.5 288.8) scale(0.985 1)" text-anchor="end">16</text>
<text class="cl" transform="translate(364.5 260.3) scale(0.985 1)" text-anchor="end">18</text>
<text class="cl" transform="translate(364.5 231.8) scale(0.985 1)" text-anchor="end">20</text>
<line class="g" x1="975.4" y1="731.5" x2="1471.0" y2="731.5"/>
<text class="rl" x="961.5" y="736" text-anchor="end">0</text>
<line class="g" x1="975.4" y1="656.5" x2="1471.0" y2="656.5"/>
<text class="rl" x="961.5" y="661" text-anchor="end">100</text>
<line class="g" x1="975.4" y1="581.5" x2="1471.0" y2="581.5"/>
<text class="rl" x="961.5" y="586" text-anchor="end">200</text>
<line class="g" x1="975.4" y1="506.5" x2="1471.0" y2="506.5"/>
<text class="rl" x="961.5" y="511" text-anchor="end">300</text>
<line class="g" x1="975.4" y1="431.5" x2="1471.0" y2="431.5"/>
<text class="rl" x="961.5" y="436" text-anchor="end">400</text>
<line class="g" x1="975.4" y1="357.5" x2="1471.0" y2="357.5"/>
<text class="rl" x="961.5" y="362" text-anchor="end">500</text>
<line class="g" x1="975.4" y1="282.5" x2="1471.0" y2="282.5"/>
<text class="rl" x="961.5" y="287" text-anchor="end">600</text>
<line class="g" x1="975.4" y1="207.5" x2="1471.0" y2="207.5"/>
<text class="rl" x="961.5" y="212" text-anchor="end">700</text>
<line class="g" x1="975.4" y1="132.5" x2="1471.0" y2="132.5"/>
<text class="rl" x="961.5" y="137" text-anchor="end">800</text>
<text class="rl" x="980.1" y="755.2" text-anchor="middle">1</text>
<text class="rl" x="998.8" y="755.2" text-anchor="middle">3</text>
<text class="rl" x="1017.5" y="755.2" text-anchor="middle">5</text>
<text class="rl" x="1036.2" y="755.2" text-anchor="middle">7</text>
<text class="rl" x="1054.9" y="755.2" text-anchor="middle">9</text>
<text class="rl" x="1073.6" y="755.2" text-anchor="middle">11</text>
<text class="rl" x="1092.3" y="755.2" text-anchor="middle">13</text>
<text class="rl" x="1111" y="755.2" text-anchor="middle">15</text>
<text class="rl" x="1129.7" y="755.2" text-anchor="middle">17</text>
<text class="rl" x="1148.4" y="755.2" text-anchor="middle">19</text>
<text class="rl" x="1167.1" y="755.2" text-anchor="middle">21</text>
<text class="rl" x="1185.8" y="755.2" text-anchor="middle">23</text>
<text class="rl" x="1204.5" y="755.2" text-anchor="middle">25</text>
<text class="rl" x="1223.2" y="755.2" text-anchor="middle">27</text>
<text class="rl" x="1241.9" y="755.2" text-anchor="middle">29</text>
<text class="rl" x="1260.6" y="755.2" text-anchor="middle">31</text>
<text class="rl" x="1279.3" y="755.2" text-anchor="middle">33</text>
<text class="rl" x="1298" y="755.2" text-anchor="middle">35</text>
<text class="rl" x="1316.7" y="755.2" text-anchor="middle">37</text>
<text class="rl" x="1335.4" y="755.2" text-anchor="middle">39</text>
<text class="rl" x="1354.1" y="755.2" text-anchor="middle">41</text>
<text class="rl" x="1372.8" y="755.2" text-anchor="middle">43</text>
<text class="rl" x="1391.5" y="755.2" text-anchor="middle">45</text>
<text class="rl" x="1410.2" y="755.2" text-anchor="middle">47</text>
<text class="rl" x="1428.9" y="755.2" text-anchor="middle">49</text>
<text class="rl" x="1447.6" y="755.2" text-anchor="middle">51</text>
<text class="rl" x="1466.3" y="755.2" text-anchor="middle">53</text>
<polyline class="s d" stroke="#5B9BD5" points="980.1,721.6 989.4,710.6 998.8,699.1 1008.1,688.5 1017.5,678.0 1026.8,667.3 1036.2,656.4 1045.5,645.3 1054.9,633.8 1064.2,623.0 1073.6,612.5 1082.9,601.8 1092.3,594.0 1101.6,584.8 1111.0,574.1 1120.3,563.1 1129.7,552.8 1139.0,544.9 1148.4,533.7 1157.7,522.0 1167.1,510.3 1176.4,502.5 1185.8,492.4 1195.1,482.7 1204.5,472.9 1213.8,463.0 1223.2,452.9 1232.6,442.8 1241.9,432.8 1251.3,423.2 1260.6,411.5 1270.0,400.6 1279.3,391.0 1288.7,381.7 1298.0,373.3 1307.4,362.7 1316.7,352.2 1326.1,342.2 1335.4,332.2 1344.8,321.7 1354.1,311.5 1363.5,300.8 1372.8,290.2 1382.2,279.8 1391.5,269.6 1400.9,259.5 1410.2,249.8 1419.6,240.1 1428.9,229.0 1438.3,217.3 1447.6,204.0 1457.0,198.2 1466.3,198.2"/>
<polyline class="s d" stroke="#ED7D31" points="980.1,721.6 989.4,709.2 998.8,696.5 1008.1,685.6 1017.5,675.2 1026.8,665.1 1036.2,654.1 1045.5,644.6 1054.9,634.8 1064.2,624.8 1073.6,614.7 1082.9,605.0 1092.3,595.2 1101.6,585.7 1111.0,576.1 1120.3,568.3 1129.7,559.7 1139.0,549.8 1148.4,538.4 1157.7,528.3 1167.1,518.4 1176.4,509.9 1185.8,499.2 1195.1,489.3 1204.5,479.2 1213.8,468.5 1223.2,458.6 1232.6,450.1 1241.9,440.3 1251.3,431.6 1260.6,422.0 1270.0,412.2 1279.3,402.7 1288.7,393.3 1298.0,385.8 1307.4,376.1 1316.7,366.4 1326.1,356.4 1335.4,346.6 1344.8,337.1 1354.1,327.3 1363.5,317.7 1372.8,308.1 1382.2,298.7 1391.5,289.2 1400.9,279.7 1410.2,270.6 1419.6,261.2 1428.9,251.1 1438.3,240.7 1447.6,229.6 1457.0,224.4 1466.3,224.4"/>
<polyline class="s d" stroke="#A5A5A5" points="980.1,724.2 989.4,714.8 998.8,705.4 1008.1,696.0 1017.5,686.5 1026.8,676.2 1036.2,666.1 1045.5,656.1 1054.9,646.6 1064.2,636.5 1073.6,626.5 1082.9,616.6 1092.3,607.1 1101.6,598.9 1111.0,590.2 1120.3,580.9 1129.7,571.6 1139.0,562.3 1148.4,554.1 1157.7,544.0 1167.1,534.0 1176.4,523.9 1185.8,517.9 1195.1,508.3 1204.5,498.4 1213.8,489.9 1223.2,481.1 1232.6,471.5 1241.9,461.9 1251.3,452.9 1260.6,444.0 1270.0,435.6 1279.3,426.8 1288.7,418.0 1298.0,410.8 1307.4,401.9 1316.7,393.1 1326.1,382.8 1335.4,374.0 1344.8,366.2 1354.1,357.5 1363.5,349.3 1372.8,340.0 1382.2,330.7 1391.5,320.9 1400.9,311.1 1410.2,301.0 1419.6,291.9 1428.9,282.2 1438.3,271.3 1447.6,260.4 1457.0,255.1 1466.3,255.1"/>
<polyline class="s d" stroke="#FFC000" points="980.1,724.0 989.4,713.4 998.8,702.5 1008.1,692.9 1017.5,684.3 1026.8,674.7 1036.2,662.7 1045.5,652.6 1054.9,642.8 1064.2,633.3 1073.6,623.6 1082.9,614.2 1092.3,606.2 1101.6,598.3 1111.0,588.1 1120.3,578.5 1129.7,567.7 1139.0,556.5 1148.4,547.7 1157.7,538.5 1167.1,530.0 1176.4,522.3 1185.8,512.8 1195.1,504.4 1204.5,494.8 1213.8,485.4 1223.2,476.0 1232.6,466.4 1241.9,456.7 1251.3,447.8 1260.6,439.1 1270.0,429.7 1279.3,420.2 1288.7,410.7 1298.0,403.3 1307.4,393.7 1316.7,385.4 1326.1,376.7 1335.4,367.2 1344.8,357.3 1354.1,346.7 1363.5,337.0 1372.8,327.5 1382.2,317.8 1391.5,307.9 1400.9,298.3 1410.2,288.6 1419.6,278.0 1428.9,267.8 1438.3,257.1 1447.6,245.2 1457.0,239.9 1466.3,239.9"/>
<polyline class="s d" stroke="#4472C4" points="980.1,724.4 989.4,715.1 998.8,705.9 1008.1,695.9 1017.5,685.8 1026.8,675.5 1036.2,664.9 1045.5,654.6 1054.9,644.1 1064.2,633.3 1073.6,622.3 1082.9,611.3 1092.3,601.4 1101.6,591.5 1111.0,581.8 1120.3,573.9 1129.7,564.3 1139.0,552.7 1148.4,543.0 1157.7,533.2 1167.1,523.5 1176.4,516.2 1185.8,506.7 1195.1,497.3 1204.5,487.9 1213.8,478.3 1223.2,468.6 1232.6,459.1 1241.9,450.3 1251.3,442.6 1260.6,432.4 1270.0,422.9 1279.3,413.5 1288.7,404.0 1298.0,396.4 1307.4,386.9 1316.7,377.5 1326.1,368.0 1335.4,358.6 1344.8,348.9 1354.1,339.1 1363.5,329.5 1372.8,320.1 1382.2,310.6 1391.5,300.9 1400.9,291.8 1410.2,282.3 1419.6,271.7 1428.9,261.4 1438.3,251.4 1447.6,241.9 1457.0,236.6 1466.3,236.6"/>
<polyline class="s d" stroke="#70AD47" points="980.1,724.5 989.4,714.6 998.8,704.0 1008.1,693.4 1017.5,682.4 1026.8,672.8 1036.2,662.6 1045.5,652.6 1054.9,643.1 1064.2,633.5 1073.6,624.3 1082.9,614.8 1092.3,605.7 1101.6,598.5 1111.0,590.0 1120.3,579.6 1129.7,569.7 1139.0,560.5 1148.4,553.0 1157.7,542.9 1167.1,533.2 1176.4,525.4 1185.8,515.5 1195.1,505.9 1204.5,496.4 1213.8,486.9 1223.2,477.6 1232.6,468.2 1241.9,458.6 1251.3,449.0 1260.6,439.2 1270.0,430.5 1279.3,421.0 1288.7,411.1 1298.0,400.7 1307.4,393.3 1316.7,384.4 1326.1,375.0 1335.4,365.4 1344.8,355.4 1354.1,345.7 1363.5,337.1 1372.8,327.6 1382.2,318.1 1391.5,307.8 1400.9,299.0 1410.2,289.2 1419.6,279.1 1428.9,269.2 1438.3,259.6 1447.6,247.2 1457.0,239.3 1466.3,234.3"/>
<polyline class="s" stroke="#255E91" points="980.1,721.6 989.4,710.7 998.8,699.2 1008.1,688.3 1017.5,677.9 1026.8,666.9 1036.2,657.0 1045.5,648.1 1054.9,637.6 1064.2,628.5 1073.6,618.7 1082.9,610.5 1092.3,601.3 1101.6,591.1 1111.0,580.8 1120.3,570.3 1129.7,559.4 1139.0,548.0 1148.4,537.8 1157.7,526.9 1167.1,516.4 1176.4,509.3 1185.8,500.6 1195.1,492.2 1204.5,482.2 1213.8,472.2 1223.2,462.6 1232.6,453.2 1241.9,443.8 1251.3,433.5 1260.6,424.3 1270.0,415.3 1279.3,406.4 1288.7,398.4 1298.0,390.8 1307.4,381.4 1316.7,372.4 1326.1,363.7 1335.4,353.8 1344.8,344.6 1354.1,335.7 1363.5,326.5 1372.8,317.2 1382.2,307.8 1391.5,298.6 1400.9,286.8 1410.2,277.1 1419.6,265.6 1428.9,255.2 1438.3,245.8 1447.6,234.5 1457.0,229.1 1466.3,229.1"/>
<polyline class="s" stroke="#9E480E" points="980.1,724.4 989.4,714.8 998.8,704.7 1008.1,695.0 1017.5,684.8 1026.8,675.4 1036.2,665.2 1045.5,655.6 1054.9,647.0 1064.2,636.4 1073.6,627.2 1082.9,618.3 1092.3,608.0 1101.6,598.7 1111.0,590.8 1120.3,581.4 1129.7,572.3 1139.0,563.3 1148.4,552.5 1157.7,542.6 1167.1,532.3 1176.4,524.6 1185.8,514.8 1195.1,506.1 1204.5,496.1 1213.8,486.8 1223.2,477.1 1232.6,468.0 1241.9,456.9 1251.3,447.6 1260.6,438.7 1270.0,430.1 1279.3,420.5 1288.7,410.9 1298.0,403.8 1307.4,394.6 1316.7,385.5 1326.1,376.0 1335.4,367.9 1344.8,358.6 1354.1,350.4 1363.5,340.6 1372.8,331.6 1382.2,322.1 1391.5,311.3 1400.9,301.2 1410.2,290.8 1419.6,280.9 1428.9,271.9 1438.3,262.9 1447.6,252.5 1457.0,247.3 1466.3,247.3"/>
<polyline class="s" stroke="#636363" points="980.1,724.6 989.4,714.5 998.8,705.0 1008.1,695.0 1017.5,683.7 1026.8,674.0 1036.2,663.4 1045.5,653.7 1054.9,645.2 1064.2,635.5 1073.6,624.6 1082.9,615.5 1092.3,606.8 1101.6,598.1 1111.0,586.9 1120.3,576.9 1129.7,565.5 1139.0,555.1 1148.4,546.9 1157.7,536.8 1167.1,527.1 1176.4,518.8 1185.8,508.8 1195.1,499.1 1204.5,488.8 1213.8,478.6 1223.2,469.2 1232.6,459.1 1241.9,448.9 1251.3,439.3 1260.6,429.3 1270.0,419.0 1279.3,410.6 1288.7,402.2 1298.0,394.4 1307.4,383.7 1316.7,374.6 1326.1,364.9 1335.4,355.8 1344.8,345.9 1354.1,334.9 1363.5,324.8 1372.8,314.4 1382.2,304.7 1391.5,294.2 1400.9,284.5 1410.2,274.1 1419.6,263.5 1428.9,252.6 1438.3,242.8 1447.6,231.6 1457.0,226.2 1466.3,226.2"/>
<polyline class="s" stroke="#997300" points="980.1,724.3 989.4,715.1 998.8,704.4 1008.1,693.1 1017.5,683.0 1026.8,674.1 1036.2,663.9 1045.5,654.8 1054.9,645.2 1064.2,635.0 1073.6,625.1 1082.9,615.4 1092.3,605.7 1101.6,595.9 1111.0,586.4 1120.3,578.1 1129.7,569.0 1139.0,559.0 1148.4,550.4 1157.7,540.2 1167.1,529.9 1176.4,522.1 1185.8,511.9 1195.1,502.0 1204.5,492.8 1213.8,483.6 1223.2,475.2 1232.6,466.5 1241.9,457.4 1251.3,448.4 1260.6,439.5 1270.0,431.3 1279.3,422.1 1288.7,413.2 1298.0,405.7 1307.4,396.6 1316.7,387.0 1326.1,378.2 1335.4,369.2 1344.8,358.3 1354.1,348.1 1363.5,338.0 1372.8,328.7 1382.2,319.0 1391.5,308.5 1400.9,299.5 1410.2,289.9 1419.6,279.4 1428.9,268.9 1438.3,258.3 1447.6,246.2 1457.0,241.1 1466.3,241.1"/>
<polyline class="s" stroke="#FF0000" points="980.1,725.2 989.4,716.0 998.8,705.6 1008.1,695.1 1017.5,684.8 1026.8,675.9 1036.2,666.5 1045.5,655.9 1054.9,645.6 1064.2,635.3 1073.6,625.0 1082.9,615.9 1092.3,606.5 1101.6,597.0 1111.0,585.8 1120.3,574.1 1129.7,560.7 1139.0,549.3 1148.4,541.5 1157.7,531.8 1167.1,520.7 1176.4,513.0 1185.8,504.1 1195.1,494.6 1204.5,485.8 1213.8,478.6 1223.2,469.6 1232.6,460.8 1241.9,451.6 1251.3,442.4 1260.6,432.9 1270.0,422.1 1279.3,412.5 1288.7,402.7 1298.0,393.8 1307.4,385.7 1316.7,375.6 1326.1,365.1 1335.4,354.7 1344.8,345.4 1354.1,335.7 1363.5,325.8 1372.8,314.9 1382.2,304.0 1391.5,293.2 1400.9,282.6 1410.2,271.8 1419.6,260.1 1428.9,248.8 1438.3,238.5 1447.6,227.9 1457.0,218.6 1466.3,212.5"/>
<polyline class="s" stroke="#7030A0" points="980.1,721.5 989.4,708.7 998.8,695.0 1008.1,681.7 1017.5,669.4 1026.8,655.8 1036.2,644.2 1045.5,633.9 1054.9,622.2 1064.2,611.3 1073.6,601.3 1082.9,590.7 1092.3,581.1 1101.6,571.6 1111.0,560.5 1120.3,549.6 1129.7,539.8 1139.0,531.2 1148.4,521.9 1157.7,510.6 1167.1,499.2 1176.4,491.8 1185.8,481.2 1195.1,471.0 1204.5,461.9 1213.8,452.2 1223.2,441.6 1232.6,431.2 1241.9,420.8 1251.3,410.4 1260.6,399.9 1270.0,389.0 1279.3,378.4 1288.7,367.9 1298.0,359.2 1307.4,348.0 1316.7,338.8 1326.1,327.4 1335.4,316.2 1344.8,305.2 1354.1,294.4 1363.5,283.3 1372.8,273.6 1382.2,263.0 1391.5,251.3 1400.9,240.3 1410.2,228.5 1419.6,215.9 1428.9,205.5 1438.3,193.4 1447.6,180.8 1457.0,175.3 1466.3,175.3"/>
<line class="s d" x1="968.1" y1="784.1" x2="1008.2" y2="784.1" stroke="#5B9BD5"/>
<text class="rl" x="1014.5" y="788">2010</text>
<line class="s d" x1="1051.1" y1="784.1" x2="1091.2" y2="784.1" stroke="#ED7D31"/>
<text class="rl" x="1097.5" y="788">2011</text>
<line class="s d" x1="1134.1" y1="784.1" x2="1174.2" y2="784.1" stroke="#A5A5A5"/>
<text class="rl" x="1180.5" y="788">2012</text>
<line class="s d" x1="1217.1" y1="784.1" x2="1257.2" y2="784.1" stroke="#FFC000"/>
<text class="rl" x="1263.5" y="788">2013</text>
<line class="s d" x1="1300.1" y1="784.1" x2="1340.2" y2="784.1" stroke="#4472C4"/>
<text class="rl" x="1346.5" y="788">2014</text>
<line class="s d" x1="1383.1" y1="784.1" x2="1423.2" y2="784.1" stroke="#70AD47"/>
<text class="rl" x="1429.5" y="788">2015</text>
<line class="s" x1="968.1" y1="812" x2="1010" y2="812" stroke="#255E91"/>
<text class="rl" x="1014.5" y="816">2016</text>
<line class="s" x1="1051.1" y1="812" x2="1093" y2="812" stroke="#9E480E"/>
<text class="rl" x="1097.5" y="816">2017</text>
<line class="s" x1="1134.1" y1="812" x2="1176" y2="812" stroke="#636363"/>
<text class="rl" x="1180.5" y="816">2018</text>
<line class="s" x1="1217.1" y1="812" x2="1259" y2="812" stroke="#997300"/>
<text class="rl" x="1263.5" y="816">2019</text>
<line class="s" x1="1300.1" y1="812" x2="1342" y2="812" stroke="#FF0000"/>
<text class="rl" x="1346.5" y="816">2020</text>
<line class="s" x1="1383.1" y1="812" x2="1425" y2="812" stroke="#7030A0"/>
<text class="rl" x="1429.5" y="816">2021</text>
</svg>
</body></html>
